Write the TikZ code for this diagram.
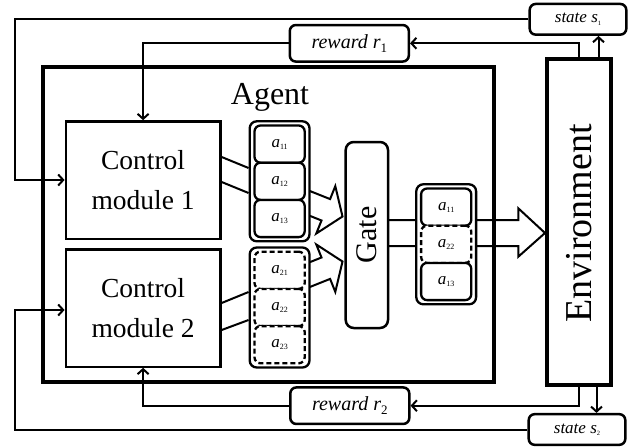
\documentclass[tikz,border=0pt]{standalone}
\usepackage{fontspec}
\setmainfont{Liberation Serif}
\usetikzlibrary{arrows.meta,calc}

\pgfdeclarelayer{background}
\pgfsetlayers{background,main}

% action label: italic a with a small upright index
\newcommand{\actlab}[1]{{\fontsize{17}{17}\selectfont\itshape a}\raisebox{-2pt}{\fontsize{8}{8}\selectfont #1}}
% signal label: italic words with an upright index
\newcommand{\msglab}[2]{{\itshape #1}\raisebox{-4pt}{\fontsize{13}{13}\selectfont #2}}
\newcommand{\statelab}[2]{{\itshape #1}\raisebox{-2.5pt}{\fontsize{6.5}{6.5}\selectfont #2}}

\begin{document}
\begin{tikzpicture}[x=1pt, y=-1pt, line join=miter,
  conn/.style={line width=2pt},
  arr/.style={conn, -{Straight Barb[length=5pt,width=11pt]}},
  modbox/.style={draw, line width=2.3pt, fill=white, minimum width=154.8pt,
    minimum height=117.3pt, inner sep=0pt, align=center,
    font=\fontsize{27.5}{40}\selectfont},
  stackbox/.style={draw, line width=2.3pt, fill=white, rounded corners=7pt,
    minimum width=59.8pt, minimum height=120pt, inner sep=0pt},
  actbox/.style={draw, line width=2.3pt, fill=white, rounded corners=6pt,
    minimum width=50.2pt, minimum height=37.2pt, inner sep=0pt},
  actdash/.style={actbox, dash pattern=on 5pt off 3pt},
  msgbox/.style={draw, line width=2.5pt, fill=white, rounded corners=6pt,
    minimum width=119pt, minimum height=36.5pt, inner sep=0pt,
    font=\fontsize{20}{24}\selectfont},
  statebox/.style={msgbox, minimum width=96.6pt, minimum height=30.7pt,
    font=\fontsize{17}{20}\selectfont},
  blockarrow/.style={draw, line width=2pt, fill=white, line join=miter},
  framebox/.style={draw, line width=4.3pt, inner sep=0pt}
]
\useasboundingbox (0,0) rectangle (629,447);

% control modules
\node[modbox] (m1) at (143.1,180) {Control\\module 1};
\node[modbox] (m2) at (143.1,308) {Control\\module 2};

% action stack of module 1
\node[stackbox] (st1) at (279.6,181.3) {};
\node[actbox] (t11) at (279.6,144.1) {\actlab{11}};
\node[actbox] (t12) at (279.6,181.3) {\actlab{12}};
\node[actbox] (t13) at (279.6,218.5) {\actlab{13}};

% action stack of module 2
\node[stackbox] (st2) at (279.6,307.5) {};
\node[actdash] (b21) at (279.6,270.3) {\actlab{21}};
\node[actdash] (b22) at (279.6,307.5) {\actlab{22}};
\node[actdash] (b23) at (279.6,344.7) {\actlab{23}};

% gate
\node[draw, line width=2.5pt, fill=white, rounded corners=8pt,
  minimum width=42.3pt, minimum height=186pt, inner sep=0pt] (gate) at (366.85,235) {};
\node[rotate=90, font=\fontsize{30}{36}\selectfont] (gatelbl) at (gate.center) {Gate};

% selected actions
\node[stackbox] (st3) at (446.2,244.3) {};
\node[actbox] (o11) at (446.2,207.1) {\actlab{11}};
\node[actdash] (o22) at (446.2,244.3) {\actlab{22}};
\node[actbox] (o13) at (446.2,281.5) {\actlab{13}};

% environment
\node[framebox, fill=white, minimum width=63.4pt, minimum height=326.3pt] (env) at (579,221.85) {};
\node[rotate=90, font=\fontsize{38}{44}\selectfont] (envlbl) at (579,223.5) {Environment};

% agent frame
\node[framebox, minimum width=451pt, minimum height=314.7pt] (agent) at (268.25,224.65) {};
\node[anchor=base, font=\fontsize{32}{38}\selectfont] (agentlbl) at (270,104) {Agent};

% reward and state signals
\node[msgbox] (rw1) at (349.3,43.3) {\msglab{reward r}{1}};
\node[msgbox] (rw2) at (349.8,405.7) {\msglab{reward r}{2}};
\node[statebox] (s1) at (578,19.3) {\statelab{state s}{1}};
\node[statebox] (s2) at (577,429.5) {\statelab{state s}{2}};

\coordinate (loopx) at (14.7,0);
\coordinate (upx) at (598.5,0);
\coordinate (dnx) at (596.5,0);

% feedback loops
\draw[arr] (s1.west) -- (s1.west -| loopx) |- (m1.west);
\draw[arr] (s2.west) -- (s2.west -| loopx) |- ($(m2.west)+(0,2)$);
\draw[arr] (rw1.west) -| (m1.north);
\draw[arr] (rw2.west) -| (m2.south);
\draw[arr] (env.north) |- (rw1.east);
\draw[arr] (env.south) |- (rw2.east);
\draw[arr] (env.north -| upx) -- (s1.south -| upx);
\draw[arr] (env.south -| dnx) -- (s2.north -| dnx);

% module outputs
\draw[conn] (m1.east |- 0,157) -- (st1.west |- 0,168);
\draw[conn] (m1.east |- 0,182) -- (st1.west |- 0,193);
\draw[conn] (m2.east |- 0,303) -- (st2.west |- 0,292);
\draw[conn] (m2.east |- 0,330) -- (st2.west |- 0,320);

\begin{pgfonlayer}{background}
  % stacks into the gate
  \draw[blockarrow] (302.3,188) -- (330.1,199.1) -- (335.3,186.1) -- (342.5,216.5)
    -- (316.3,233.5) -- (321.5,220.5) -- (293.7,209.4) -- cycle;
  \draw[blockarrow] (302.3,290) -- (330.1,278.9) -- (335.3,291.9) -- (342.5,261.5)
    -- (316.3,244.5) -- (321.5,257.5) -- (293.7,268.6) -- cycle;
  % gate output to the environment
  \draw[blockarrow] (380,220) -- (518.3,220) -- (518.3,208.3) -- (545,233)
    -- (518.3,256.7) -- (518.3,246) -- (380,246) -- cycle;
\end{pgfonlayer}
\end{tikzpicture}
\end{document}
